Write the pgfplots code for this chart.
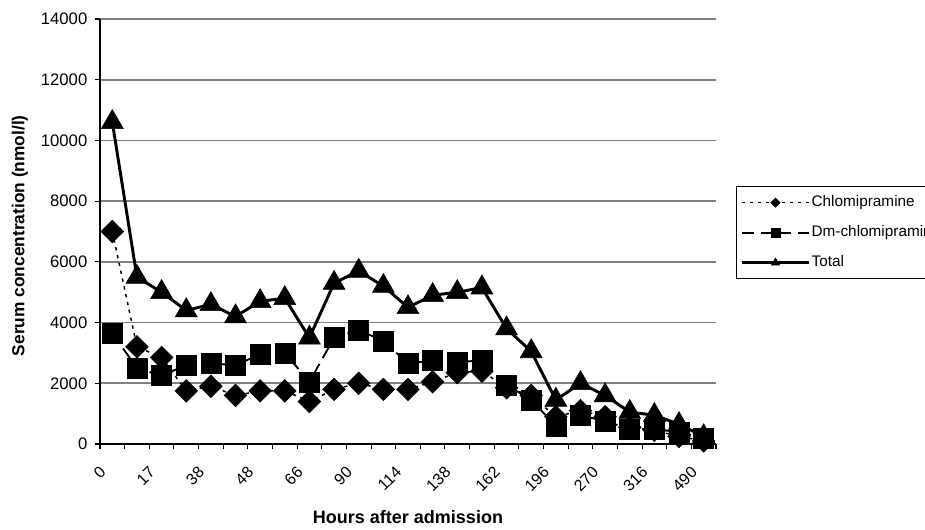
\documentclass[border=0pt]{standalone}
\usepackage{pgfplots}
\pgfplotsset{compat=1.18}
\usepackage{pgfplotstable}
\usetikzlibrary{plotmarks}
\usepackage{fontspec}
\setmainfont{Liberation Sans}

\pgfdeclareplotmark{mydiamond*}{%
  \pgfpathmoveto{\pgfqpoint{0pt}{\pgfplotmarksize}}%
  \pgfpathlineto{\pgfqpoint{\pgfplotmarksize}{0pt}}%
  \pgfpathlineto{\pgfqpoint{0pt}{-\pgfplotmarksize}}%
  \pgfpathlineto{\pgfqpoint{-\pgfplotmarksize}{0pt}}%
  \pgfpathclose
  \pgfusepathqfillstroke
}

\pgfplotstableread{
x chl dm tot
0 7000 3650 10600
1 3200 2500 5500
2 2850 2250 5000
3 1750 2600 4400
4 1900 2650 4600
5 1600 2600 4200
6 1750 2950 4700
7 1750 3000 4800
8 1400 2050 3500
9 1800 3500 5300
10 2000 3750 5700
11 1800 3400 5200
12 1800 2650 4500
13 2050 2750 4900
14 2350 2700 5000
15 2400 2750 5150
16 1850 1950 3800
17 1600 1450 3050
18 900 600 1450
19 1100 950 2000
20 900 750 1600
21 550 500 1050
22 450 480 950
23 250 400 650
24 100 200 250
}\datatable

\begin{document}
\begin{tikzpicture}
\useasboundingbox (-75pt,-63.75pt) rectangle (618.75pt,333pt);
\clip (-75pt,-63.75pt) rectangle (618.75pt,333pt);
\begin{axis}[
  at={(0,0)}, anchor=south west,
  scale only axis, width=462pt, height=318.75pt,
  clip=false,
  xmin=-0.5, xmax=24.5, ymin=0, ymax=14000,
  scaled y ticks=false, scaled x ticks=false,
  xtick={0,2,...,24},
  xticklabels={0,17,38,48,66,90,114,138,162,196,270,316,490},
  minor xtick={-0.5,0.5,...,24.5},
  ytick={0,2000,...,14000},
  yticklabels={0,2000,4000,6000,8000,10000,12000,14000},
  axis x line*=bottom, axis y line*=left,
  axis line style={-, line width=0.8pt, black},
  tick align=outside,
  major tick length=4pt, minor tick length=4pt,
  every major x tick/.append style={draw=none},
  every minor x tick/.append style={black, line width=0.8pt},
  ytick style={black, line width=0.8pt},
  ymajorgrids,
  major grid style={line width=1.2pt, color=black!50},
  yticklabel style={font=\fontsize{12.5}{14}\selectfont, xshift=-2pt},
  xticklabel style={font=\fontsize{12}{14}\selectfont, xshift=-7pt, yshift=-15pt, rotate=45, anchor=east, inner sep=0pt},
  xlabel={Hours after admission},
  xlabel style={font=\fontsize{13.5}{16}\selectfont\bfseries, at={(axis description cs:0.5,-0.1725)}, anchor=center},
  ylabel={Serum concentration (nmol/l)},
  ylabel style={font=\fontsize{13}{15}\selectfont\bfseries, at={(axis description cs:-0.1299,0.49)}, anchor=center},
  legend image code/.code={\draw[mark repeat=2,mark phase=2,#1, mark size=3.5pt] plot coordinates {(0pt,0pt) (25pt,0pt) (50pt,0pt)};},
  legend style={at={(1.0325,0.607)}, anchor=north west, draw=black, line width=1pt,
    font=\fontsize{11.5}{13}\selectfont, inner xsep=3pt, inner ysep=5.5pt, row sep=9.5pt,
    nodes={inner sep=1pt, text height=8.5pt, text depth=2.5pt}},
  legend cell align=left,
]
\addplot[black, line width=1.1pt, dash pattern=on 2.5pt off 3.5pt, mark=mydiamond*, mark size=8.5pt, mark options={solid, line width=0.4pt}] table[x=x,y=chl]{\datatable};
\addplot[black, line width=1.4pt, dash pattern=on 9pt off 5pt, mark=square*, mark size=7.5pt, mark options={solid, line width=0.4pt}] table[x=x,y=dm]{\datatable};
\addplot[black, line width=2.2pt, mark=triangle*, mark size=9.5pt, mark options={solid, line width=0.4pt}] table[x=x,y=tot]{\datatable};
\legend{Chlomipramine, Dm-chlomipramine, Total}
\end{axis}
\end{tikzpicture}
\end{document}
